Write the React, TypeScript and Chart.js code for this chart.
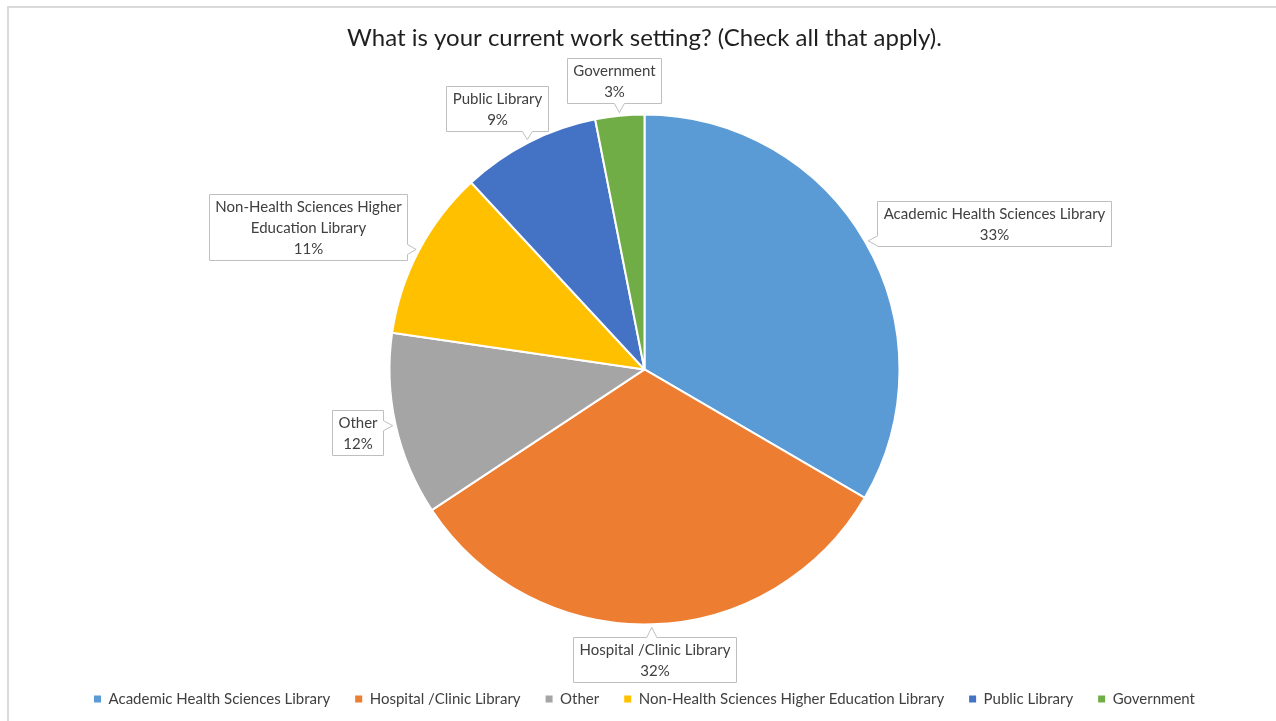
import React, { useEffect, useRef } from 'react';
import { Chart, registerables } from 'chart.js';

Chart.register(...registerables);

const categories = [
  'Academic Health Sciences Library',
  'Hospital /Clinic Library',
  'Other',
  'Non-Health Sciences Higher Education Library',
  'Public Library',
  'Government',
];
const shares = [33.4, 32.3, 11.6, 10.8, 8.8, 3.1];
const sliceColors = ['#5B9BD5', '#ED7D31', '#A5A5A5', '#FFC000', '#4472C4', '#70AD47'];
const calloutLines = [
  ['Academic Health Sciences Library'],
  ['Hospital /Clinic Library'],
  ['Other'],
  ['Non-Health Sciences Higher', 'Education Library'],
  ['Public Library'],
  ['Government'],
];
const titleText = 'What is your current work setting? (Check all that apply).';

const FONT = 'Lato, "Open Sans", sans-serif';

const calloutPlugin = {
  id: 'callouts',
  afterDatasetsDraw(chart: any) {
    const ctx = chart.ctx as CanvasRenderingContext2D;
    const meta = chart.getDatasetMeta(0);
    const data = chart.data.datasets[0].data as number[];
    const total = data.reduce((a, b) => a + b, 0);
    const padX = 6, padY = 1.5, lineH = 21, gap = 10, hw = 5;
    ctx.save();
    ctx.font = `15px ${FONT}`;
    meta.data.forEach((arc: any, i: number) => {
      const { x, y, startAngle, endAngle, outerRadius } = arc.getProps(
        ['x', 'y', 'startAngle', 'endAngle', 'outerRadius'], true);
      const mid = (startAngle + endAngle) / 2;
      const dx = Math.cos(mid), dy = Math.sin(mid);
      const T = { x: x + (outerRadius + 3) * dx, y: y + (outerRadius + 3) * dy };
      const lines = [...calloutLines[i], Math.round((data[i] / total) * 100) + '%'];
      const tw = Math.max(...lines.map((l) => ctx.measureText(l).width));
      const w = Math.round(tw + 2 * padX);
      const h = Math.round(lines.length * lineH + 2 * padY);
      const m = Math.max(Math.abs(dx), Math.abs(dy));
      const cx = T.x + gap * dx + (dx / m) * (w / 2);
      const cy = T.y + gap * dy + (dy / m) * (h / 2);
      const L = Math.round(cx - w / 2) + 0.5, Tp = Math.round(cy - h / 2) + 0.5;
      const R = L + w, B = Tp + h;
      let edge = '';
      let best = 0;
      if (T.x < L && L - T.x > best) { edge = 'left'; best = L - T.x; }
      if (T.x > R && T.x - R > best) { edge = 'right'; best = T.x - R; }
      if (T.y < Tp && Tp - T.y > best) { edge = 'top'; best = Tp - T.y; }
      if (T.y > B && T.y - B > best) { edge = 'bottom'; best = T.y - B; }
      const clamp = (v: number, a: number, b: number) => Math.max(a, Math.min(b, v));
      const pts: [number, number][] = [];
      pts.push([L, Tp]);
      if (edge === 'top') {
        const q = clamp(T.x, L + hw, R - hw);
        pts.push([q - hw, Tp], [T.x, T.y], [q + hw, Tp]);
      }
      pts.push([R, Tp]);
      if (edge === 'right') {
        const q = clamp(T.y, Tp + hw, B - hw);
        pts.push([R, q - hw], [T.x, T.y], [R, q + hw]);
      }
      pts.push([R, B]);
      if (edge === 'bottom') {
        const q = clamp(T.x, L + hw, R - hw);
        pts.push([q + hw, B], [T.x, T.y], [q - hw, B]);
      }
      pts.push([L, B]);
      if (edge === 'left') {
        const q = clamp(T.y, Tp + hw, B - hw);
        pts.push([L, q + hw], [T.x, T.y], [L, q - hw]);
      }
      ctx.beginPath();
      pts.forEach((p, k) => (k === 0 ? ctx.moveTo(p[0], p[1]) : ctx.lineTo(p[0], p[1])));
      ctx.closePath();
      ctx.fillStyle = '#ffffff';
      ctx.fill();
      ctx.strokeStyle = '#bfbfbf';
      ctx.lineWidth = 1;
      ctx.stroke();
      ctx.fillStyle = '#404040';
      ctx.textAlign = 'center';
      ctx.textBaseline = 'middle';
      const tcx = (L + R) / 2;
      lines.forEach((l, k) => {
        ctx.fillText(l, tcx, Tp + padY + lineH * (k + 0.5) + 1);
      });
    });
    ctx.restore();
  },
};

export default function App() {
  const ref = useRef<HTMLCanvasElement | null>(null);
  useEffect(() => {
    if (!ref.current) return;
    const chart = new Chart(ref.current, {
      type: 'pie',
      data: {
        labels: categories,
        datasets: [
          {
            data: shares,
            backgroundColor: sliceColors,
            borderColor: '#ffffff',
            borderWidth: 2,
            radius: 255,
          } as any,
        ],
      },
      options: {
        responsive: false,
        animation: false,
        layout: { padding: { left: 13, right: 0, top: 0, bottom: 4.5 } },
        plugins: {
          tooltip: { enabled: false },
          title: {
            display: true,
            text: titleText,
            color: '#1f1f1f',
            font: { family: FONT, size: 24, weight: 'normal' },
            padding: { top: 23.6, bottom: 20 },
          },
          legend: {
            position: 'bottom',
            labels: {
              boxWidth: 7,
              boxHeight: 7,
              padding: 25,
              color: '#404040',
              font: { family: FONT, size: 15 },
              generateLabels: (c: any) =>
                (Chart as any).overrides.pie.plugins.legend.labels
                  .generateLabels(c)
                  .map((it: any) => ({ ...it, lineWidth: 0, strokeStyle: it.fillStyle })),
            },
          },
        },
      } as any,
      plugins: [calloutPlugin],
    });
    return () => chart.destroy();
  }, []);
  return (
    <div style={{ position: 'fixed', left: 0, top: 0, width: 1276, height: 721, background: '#fff', overflow: 'hidden' }}>
      <div
        style={{
          position: 'absolute', left: 7, top: 6, width: 1400, height: 800,
          borderLeft: '2px solid #d9d9d9', borderTop: '2px solid #d9d9d9',
        }}
      />
      <canvas ref={ref} width={1276} height={721} style={{ position: 'absolute', left: 0, top: 0 }} />
    </div>
  );
}
